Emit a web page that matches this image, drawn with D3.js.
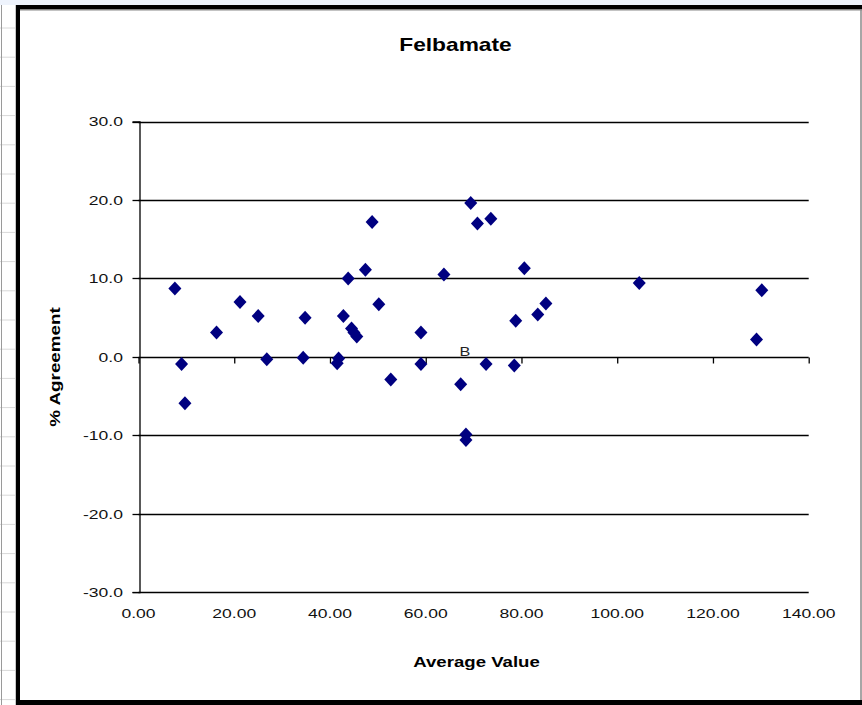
<!DOCTYPE html>
<html>
<head>
<meta charset="utf-8">
<script src="https://cdn.jsdelivr.net/npm/d3@7"></script>
<style>
  html, body { margin: 0; padding: 0; background: #fff; }
  svg { display: block; }
  text { font-family: "Liberation Sans", Arial, sans-serif; }
</style>
</head>
<body>
<svg id="chart" width="862" height="705"></svg>
<script>
// ---- data ----
const title = "Felbamate";
const xLabel = "Average Value";
const yLabel = "% Agreement";
const xTicks = [0, 20, 40, 60, 80, 100, 120, 140];
const yTicks = [-30, -20, -10, 0, 10, 20, 30];
const avgValue = [7.6, 9.0, 9.7, 16.3, 21.2, 25.0, 26.8, 34.8, 34.4, 41.5, 41.8, 42.8, 43.8, 44.5, 45.0, 45.6, 47.4, 48.8, 50.2, 52.7, 59.0, 59.0, 63.8, 67.3, 68.4, 68.4, 69.4, 70.8, 72.6, 73.6, 78.5, 78.8, 80.6, 83.4, 85.1, 104.6, 130.2, 129.1];
const agreement = [8.7, -0.9, -5.9, 3.1, 7.0, 5.2, -0.3, 5.0, -0.1, -0.8, -0.2, 5.2, 10.0, 3.6, 3.1, 2.6, 11.1, 17.2, 6.7, -2.9, 3.1, -0.9, 10.5, -3.5, -9.9, -10.6, 19.6, 17.0, -0.9, 17.6, -1.1, 4.6, 11.3, 5.4, 6.8, 9.4, 8.5, 2.2];
const annotText = ["B"];
const annotX = [68.2];
const annotY = [0.05];

// ---- drawing ----
const svg = d3.select("#chart");
const W = 862, H = 705;
const SX = 1.3; // horizontal text stretch seen in the reference

function stretchedText(parent, px, py, str, opts) {
  const g = parent.append("g").attr("transform", `translate(${px},${py})${opts.rotate ? " rotate(" + opts.rotate + ")" : ""} scale(${opts.sx || SX},1)`);
  return g.append("text").attr("x", 0).attr("y", 0)
    .attr("text-anchor", opts.anchor || "middle")
    .attr("font-size", opts.size)
    .attr("font-weight", opts.bold ? "bold" : "normal")
    .attr("fill", opts.fill || "#000")
    .text(str);
}

// spreadsheet background strip
svg.append("rect").attr("x", 0).attr("y", 0).attr("width", W).attr("height", 5).attr("fill", "#eef3fc");
const gridRows = d3.range(0, 24).map(i => 28 + i * 29.2);
svg.selectAll("line.sheet").data(gridRows).enter().append("line")
  .attr("x1", 0).attr("x2", 15).attr("y1", d => d).attr("y2", d => d)
  .attr("stroke", "#d8d8d8").attr("stroke-width", 1);
svg.append("line").attr("x1", 1.5).attr("x2", 1.5).attr("y1", 5).attr("y2", H).attr("stroke", "#9a9a9a").attr("stroke-width", 1);
svg.append("line").attr("x1", 15.5).attr("x2", 15.5).attr("y1", 5).attr("y2", H).attr("stroke", "#c8c8c8").attr("stroke-width", 1);

// chart frame
svg.append("rect").attr("x", 18).attr("y", 7.5).attr("width", 842).attr("height", 694.5)
  .attr("fill", "#fff").attr("stroke", "none");
svg.append("line").attr("x1", 16).attr("x2", W).attr("y1", 7.2).attr("y2", 7.2).attr("stroke", "#000").attr("stroke-width", 4.5);
svg.append("line").attr("x1", 18).attr("x2", W).attr("y1", 10).attr("y2", 10).attr("stroke", "#888").attr("stroke-width", 1);
svg.append("line").attr("x1", 18).attr("x2", 18).attr("y1", 5).attr("y2", H).attr("stroke", "#000").attr("stroke-width", 4);
svg.append("line").attr("x1", 16).attr("x2", W).attr("y1", 702.5).attr("y2", 702.5).attr("stroke", "#000").attr("stroke-width", 5);
svg.append("line").attr("x1", 861).attr("x2", 861).attr("y1", 10).attr("y2", 700).attr("stroke", "#888").attr("stroke-width", 1.5);

const x = d3.scaleLinear().domain([0, 140]).range([138.5, 808.7]);
const y = d3.scaleLinear().domain([-30, 30]).range([592.2, 121.5]);

// horizontal gridlines (major)
svg.append("g").selectAll("line").data(yTicks).enter().append("line")
  .attr("x1", x(0)).attr("x2", x(140))
  .attr("y1", d => Math.round(y(d)) + 0.5).attr("y2", d => Math.round(y(d)) + 0.5)
  .attr("stroke", "#000").attr("stroke-width", 1.3);

// y axis (line + ticks)
const yAxis = d3.axisLeft(y).tickValues(yTicks).tickSize(7).tickFormat("");
const gy = svg.append("g").attr("transform", `translate(${Math.round(x(0)) + 0.5},0)`).call(yAxis);
gy.select(".domain").attr("stroke", "#000").attr("stroke-width", 1.3);
gy.selectAll(".tick line").attr("stroke", "#000").attr("stroke-width", 1.3);
gy.selectAll(".tick").attr("transform", d => `translate(0,${Math.round(y(d)) + 0.5})`);

const fmtY = d => d3.format(".1f")(d).replace("\u2212", "-");
const fmtX = d => d3.format(".2f")(d).replace("\u2212", "-");
const ylabG = svg.append("g");
yTicks.forEach(t => stretchedText(ylabG, 123, y(t) + 4.8, fmtY(t), { size: 13.5, anchor: "end", fill: "#111" }));

// x axis crossing at 0 with downward ticks, labels at bottom
const xAxis = d3.axisBottom(x).tickValues(xTicks).tickSize(6).tickFormat("");
const gx = svg.append("g").attr("transform", `translate(0,${Math.round(y(0)) + 0.5})`).call(xAxis);
gx.select(".domain").remove();
gx.selectAll(".tick line").attr("stroke", "#000").attr("stroke-width", 1.3);

const xlabG = svg.append("g");
xTicks.forEach(t => stretchedText(xlabG, x(t), 618, fmtX(t), { size: 13.5, anchor: "middle", fill: "#111" }));

// points
const pts = avgValue.map((v, i) => ({ x: v, y: agreement[i] }));
const diamond = "M0,-7 L6.5,0 L0,7 L-6.5,0 Z";
svg.append("g").selectAll("path").data(pts).enter().append("path")
  .attr("d", diamond)
  .attr("transform", d => `translate(${x(d.x)},${y(d.y)})`)
  .attr("fill", "#000080");

// annotation label
const annG = svg.append("g");
annotText.forEach((t, i) => stretchedText(annG, x(annotX[i]), y(annotY[i]), t, { size: 12.5, anchor: "middle", fill: "#222" }));

// titles
stretchedText(svg, 455.5, 51, title, { size: 17.5, bold: true });
stretchedText(svg, 476.5, 667, xLabel, { size: 14, bold: true, sx: 1.33 });
stretchedText(svg, 60, 367, yLabel, { size: 14.5, bold: true, rotate: -90 });
</script>
</body>
</html>
